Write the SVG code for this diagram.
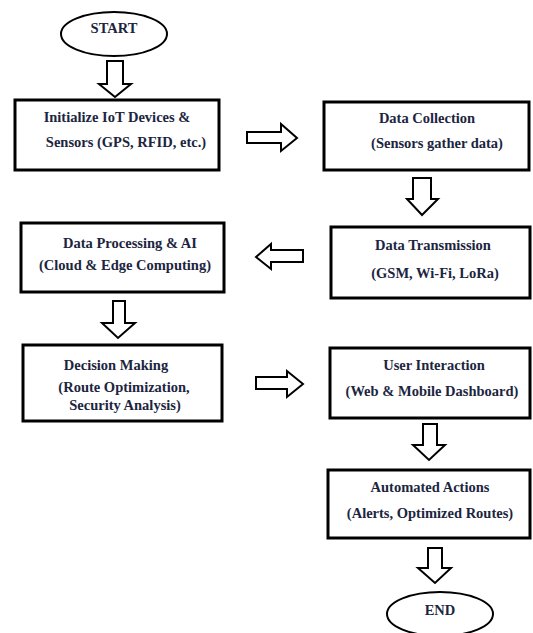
<svg xmlns="http://www.w3.org/2000/svg" width="533" height="633" viewBox="0 0 533 633">
<style>
.box{fill:#fff;stroke:#000;stroke-width:3}
.ell{fill:#fff;stroke:#000;stroke-width:2}
.arr{fill:#fff;stroke:#000;stroke-width:2;stroke-linejoin:miter}
text{font-family:"Liberation Serif","DejaVu Serif",serif;font-weight:bold;font-size:14.5px;fill:#1c2540;text-anchor:middle}
</style>
<rect width="533" height="633" fill="#fff"/>
<g id="connectors">
<path class="arr" d="M107,61 H123 V84 H131 L115,97 L99,84 H107 Z"/>
<path class="arr" d="M247,132 H281 V124 L297,138 L281,151 V143 H247 Z"/>
<path class="arr" d="M413,178 H431 V199 H438 L422,215 L407,199 H413 Z"/>
<path class="arr" d="M303,250 H271 V244 L256,257 L271,269 V262 H303 Z"/>
<path class="arr" d="M113,301 H125 V323 H135 L118,338 L102,323 H113 Z"/>
<path class="arr" d="M256,377 H287 V371 L303,384 L287,397 V389 H256 Z"/>
<path class="arr" d="M423,424 H437 V445 H445 L429,460 L413,445 H423 Z"/>
<path class="arr" d="M428,548 H442 V568 H451 L435,583 L418,568 H428 Z"/>
</g>
<g id="start">
<ellipse class="ell" cx="114" cy="34" rx="53" ry="22"/>
<text x="114" y="33">START</text>
</g>
<g id="init">
<rect class="box" x="15" y="100" width="204" height="70"/>
<text x="117" y="122">Initialize IoT Devices &amp;</text>
<text x="126" y="147">Sensors (GPS, RFID, etc.)</text>
</g>
<g id="collection">
<rect class="box" x="324" y="102" width="205" height="68"/>
<text x="427" y="123">Data Collection</text>
<text x="437" y="148">(Sensors gather data)</text>
</g>
<g id="transmission">
<rect class="box" x="331" y="227" width="199" height="71"/>
<text x="433" y="250">Data Transmission</text>
<text x="435" y="278">(GSM, Wi-Fi, LoRa)</text>
</g>
<g id="processing">
<rect class="box" x="21" y="223" width="203" height="69"/>
<text x="130" y="248">Data Processing &amp; AI</text>
<text x="125" y="270">(Cloud &amp; Edge Computing)</text>
</g>
<g id="decision">
<rect class="box" x="23" y="345" width="199" height="76"/>
<text x="116" y="370">Decision Making</text>
<text x="124" y="392">(Route Optimization,</text>
<text x="125" y="410">Security Analysis)</text>
</g>
<g id="user">
<rect class="box" x="330" y="348" width="200" height="70"/>
<text x="434" y="370">User Interaction</text>
<text x="432" y="396">(Web &amp; Mobile Dashboard)</text>
</g>
<g id="actions">
<rect class="box" x="328" y="470" width="202" height="68"/>
<text x="430" y="492">Automated Actions</text>
<text x="430" y="518">(Alerts, Optimized Routes)</text>
</g>
<g id="end">
<ellipse class="ell" cx="440" cy="614" rx="53" ry="22"/>
<text x="440" y="615">END</text>
</g>
</svg>
